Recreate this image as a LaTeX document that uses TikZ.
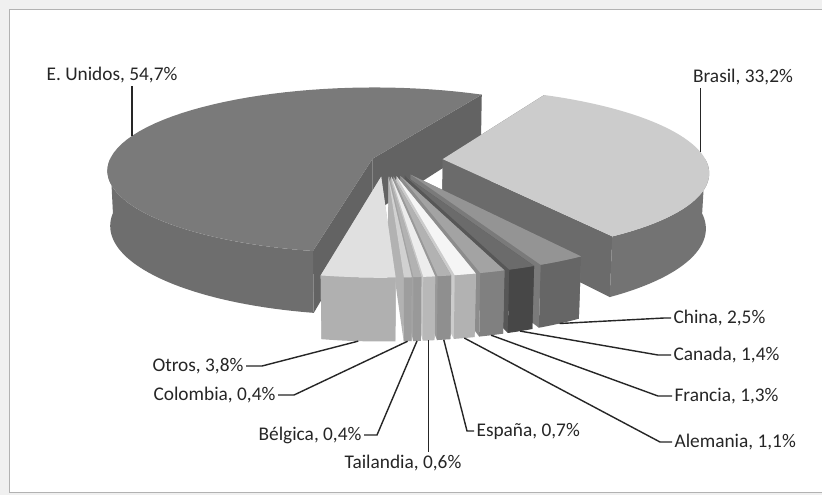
\documentclass[tikz,border=0pt]{standalone}
\usepackage{fontspec}
\setmainfont{Carlito}

% one slice: start, end, explosion, wall from, wall to, top, wall, cut, name
\newcommand{\pieslice}[9]{%
  \pgfmathsetmacro{\slexp}{#3}%
  \pgfmathsetmacro{\slmid}{(#1+#2)/2}%
  \fill[#8] ({sx(#1,0,0)},{sy(#1,0,0)}) -- ({sx(#1,1,0)},{sy(#1,1,0)}) -- ({sx(#1,1,-0.22)},{sy(#1,1,-0.22)}) -- ({sx(#1,0,-0.22)},{sy(#1,0,-0.22)}) -- cycle;
  \fill[#8] ({sx(#2,0,0)},{sy(#2,0,0)}) -- ({sx(#2,1,0)},{sy(#2,1,0)}) -- ({sx(#2,1,-0.22)},{sy(#2,1,-0.22)}) -- ({sx(#2,0,-0.22)},{sy(#2,0,-0.22)}) -- cycle;
  \fill[#7] plot[domain=#4:#5,samples=40] ({sx(\x,1,0)},{sy(\x,1,0)}) -- plot[domain=#5:#4,samples=40] ({sx(\x,1,-0.22)},{sy(\x,1,-0.22)}) -- cycle;
  \fill[#6] ({sx(#1,0,0)},{sy(#1,0,0)}) -- plot[domain=#1:#2,samples=60] ({sx(\x,1,0)},{sy(\x,1,0)}) -- cycle;
  \coordinate (#9) at ({sx(\slmid,1,-0.22)},{sy(\slmid,1,-0.22)});
}

\tikzset{
  declare function={
    ux(\ang,\rd)=\slexp*cos(\slmid)+\rd*cos(\ang);
    uy(\ang,\rd)=\slexp*sin(\slmid)+\rd*sin(\ang);
    dn(\ang,\rd,\hz)=1-0.14*uy(\ang,\rd)-0.0456*\hz;
    sx(\ang,\rd,\hz)=385+263*ux(\ang,\rd)/dn(\ang,\rd,\hz);
    sy(\ang,\rd,\hz)=160+263*(0.31*uy(\ang,\rd)-0.951*\hz)/dn(\ang,\rd,\hz);
  },
  lbl/.style={font=\fontsize{16.5}{18}\selectfont, text=black!85, inner sep=2pt},
  leader/.style={line width=1.2pt, black!85}
}

\begin{document}
\begin{tikzpicture}[x=0.03cm, y=-0.03cm]
\useasboundingbox (0,0) rectangle (822,495);
\fill[black!6] (0,0) rectangle (822,495);
\fill[white, draw=black!30] (9,9) rectangle (830,492);

% slices, back to front
\pieslice{100.94}{297.5}{0.05}{100.94}{180}{black!52}{black!57}{black!61}{peubot}
\coordinate (peu) at ({sx(197,1,0)},{sy(197,1,0)});
\pieslice{-62.5}{57.02}{0.22}{0}{57.02}{black!20}{black!55}{black!58}{pbrbot}
\coordinate (pbr) at ({sx(-5,1,0)},{sy(-5,1,0)});
\pieslice{57.02}{66.02}{0.2}{57.02}{66.02}{black!42}{black!60}{black!52}{pchina}
\pieslice{66.02}{71.06}{0.2}{66.02}{71.06}{black!58}{black!72}{black!66}{pcanada}
\pieslice{71.06}{75.74}{0.2}{71.06}{75.74}{black!36}{black!50}{black!45}{pfrancia}
\pieslice{75.74}{79.70}{0.2}{75.74}{79.70}{black!4}{black!30}{black!20}{palemania}
\pieslice{79.70}{82.22}{0.2}{79.70}{82.22}{black!30}{black!44}{black!40}{pespana}
\pieslice{82.22}{84.38}{0.2}{82.22}{84.38}{black!7}{black!28}{black!22}{ptailandia}
\pieslice{84.38}{85.82}{0.2}{84.38}{85.82}{black!30}{black!40}{black!36}{pbelgica}
\pieslice{85.82}{87.26}{0.2}{85.82}{87.26}{black!18}{black!38}{black!30}{pcolombia}
\pieslice{87.26}{100.94}{0.2}{87.26}{100.94}{black!12}{black!31}{black!25}{potros}

% labels
\node[lbl] (eu) at (112,75) {E. Unidos, 54,7\%};
\node[lbl] (br) at (743,77) {Brasil, 33,2\%};
\node[lbl, anchor=west] (china) at (671,318) {China, 2,5\%};
\node[lbl, anchor=west] (canada) at (671,355) {Canada, 1,4\%};
\node[lbl, anchor=west] (francia) at (672,396) {Francia, 1,3\%};
\node[lbl, anchor=west] (alemania) at (672,442) {Alemania, 1,1\%};
\node[lbl, anchor=west] (espana) at (474,431) {España, 0,7\%};
\node[lbl] (tailandia) at (403,463) {Tailandia, 0,6\%};
\node[lbl, anchor=east] (belgica) at (364,435) {Bélgica, 0,4\%};
\node[lbl, anchor=east] (colombia) at (278,395) {Colombia, 0,4\%};
\node[lbl, anchor=east] (otros) at (246,366) {Otros, 3,8\%};

% leaders
\draw[leader] (peu) -- (peu |- eu.south);
\draw[leader] (pbr) -- (pbr |- br.south);
\draw[leader] (pchina) -- ([xshift=-0.21cm]china.west) -- (china.west);
\draw[leader] (pcanada) -- ([xshift=-0.39cm]canada.west) -- (canada.west);
\draw[leader] (pfrancia) -- ([xshift=-0.42cm]francia.west) -- (francia.west);
\draw[leader] (palemania) -- ([xshift=-0.36cm]alemania.west) -- (alemania.west);
\draw[leader] (pespana) -- ([xshift=-0.21cm]espana.west) -- (espana.west);
\draw[leader] (ptailandia) -- (ptailandia |- tailandia.north);
\draw[leader] (pbelgica) -- ([xshift=0.39cm]belgica.east) -- (belgica.east);
\draw[leader] (pcolombia) -- ([xshift=0.48cm]colombia.east) -- (colombia.east);
\draw[leader] (potros) -- ([xshift=0.48cm]otros.east) -- (otros.east);
\end{tikzpicture}
\end{document}
